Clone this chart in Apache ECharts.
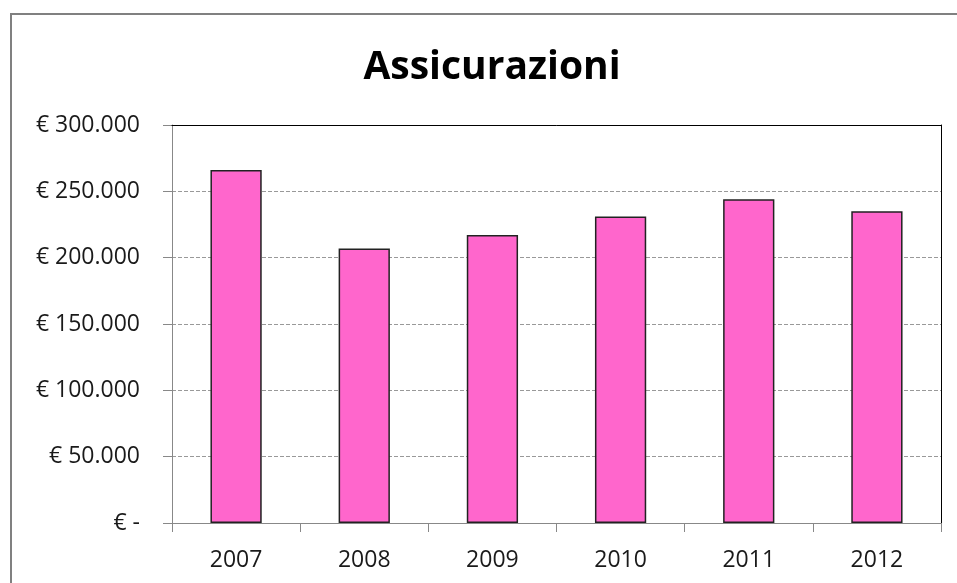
<!DOCTYPE html>
<html>
<head>
<meta charset="utf-8">
<script src="https://cdn.jsdelivr.net/npm/echarts@6/dist/echarts.min.js"></script>
<style>
html,body{margin:0;padding:0;background:#fff;}
#chart{width:957px;height:583px;}
</style>
</head>
<body>
<div id="chart"></div>
<script>
var titleText = 'Assicurazioni';
var categories = ['2007', '2008', '2009', '2010', '2011', '2012'];
var values = [266000, 207000, 217000, 231000, 244000, 235000];
var yMin = 0, yMax = 300000, yStep = 50000;

function fmtEuro(v) {
  if (v === 0) return '€ -';
  return '€ ' + String(Math.round(v)).replace(/\B(?=(\d{3})+(?!\d))/g, '.');
}

var chart = echarts.init(document.getElementById('chart'), null, {renderer: 'canvas'});
chart.setOption({
  backgroundColor: '#ffffff',
  animation: false,
  textStyle: {fontFamily: 'Open Sans'},
  title: {
    text: titleText,
    left: 487,
    top: 43,
    textAlign: 'center',
    textStyle: {fontFamily: 'Open Sans', fontWeight: 'bold', fontSize: 39, color: '#000'}
  },
  graphic: [{
    type: 'rect',
    shape: {x: 11, y: 14, width: 1000, height: 1000},
    style: {fill: 'none', stroke: '#808080', lineWidth: 2},
    silent: true
  }],
  grid: {
    left: 172, top: 125, right: 16, bottom: 60,
    show: false
  },
  xAxis: [{
    type: 'category',
    data: categories,
    z: 5,
    axisLine: {lineStyle: {color: '#888', width: 1}},
    axisTick: {show: true, length: 9, lineStyle: {color: '#888'}},
    axisLabel: {color: '#1a1a1a', fontSize: 23, margin: 26, fontFamily: 'Open Sans'}
  }, {
    type: 'category',
    data: categories,
    position: 'top',
    z: 5,
    axisLine: {show: true, onZero: false, lineStyle: {color: '#000', width: 1}},
    axisTick: {show: false},
    axisLabel: {show: false}
  }],
  yAxis: [{
    type: 'value',
    min: yMin, max: yMax, interval: yStep,
    axisLine: {show: true, lineStyle: {color: '#888', width: 1}},
    axisTick: {show: true, length: 9, lineStyle: {color: '#888'}},
    splitLine: {show: true, lineStyle: {color: '#999', type: [4, 2], width: 1}},
    axisLabel: {color: '#1a1a1a', fontSize: 23, margin: 32, fontFamily: 'Open Sans', formatter: fmtEuro}
  }, {
    type: 'value',
    position: 'right',
    min: yMin, max: yMax, interval: yStep,
    z: 5,
    axisLine: {show: true, onZero: false, lineStyle: {color: '#000', width: 1}},
    axisTick: {show: false},
    axisLabel: {show: false},
    splitLine: {show: false}
  }],
  series: [{
    type: 'bar',
    data: values,
    barWidth: '40%',
    itemStyle: {color: '#FF66CC', borderColor: '#222', borderWidth: 1.5}
  }]
});
</script>
</body>
</html>
